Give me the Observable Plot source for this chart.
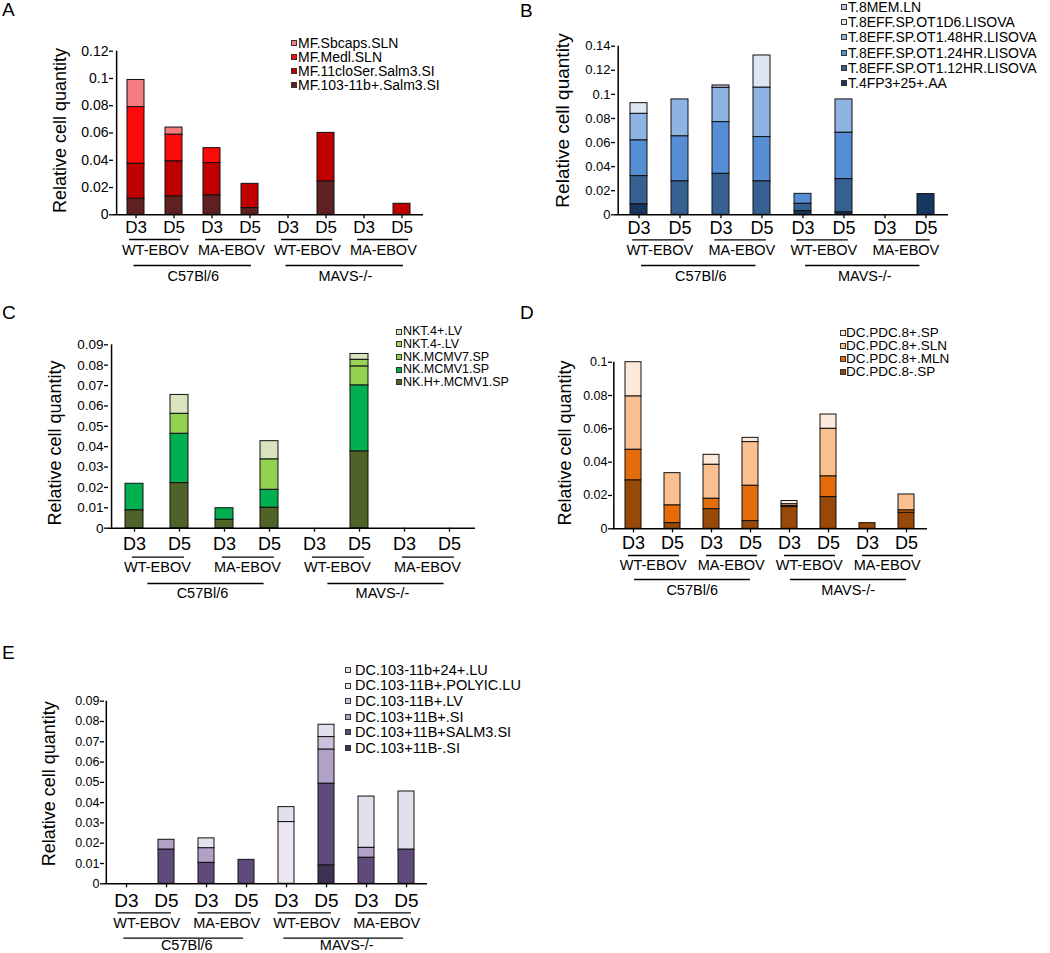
<!DOCTYPE html>
<html>
<head>
<meta charset="utf-8">
<script src="https://cdn.jsdelivr.net/npm/d3@7"></script>
<script src="https://cdn.jsdelivr.net/npm/@observablehq/plot@0.6"></script>
<style>
  body { margin: 0; background: #fff; }
  #fig { position: relative; width: 1050px; height: 953px; overflow: hidden; background: #fff;
         font-family: "Liberation Sans", Arial, Helvetica, sans-serif; color: #000; }
  .panel { position: absolute; }
  .panel svg { overflow: visible; }
  .letter { position: absolute; font-size: 19px; line-height: 19px; }
  .lrow { position: absolute; white-space: nowrap; display: flex; align-items: center; }
  .sw { display: inline-block; width: 4px; height: 4px; border: 1px solid #333; flex: none; }
</style>
</head>
<body>
<div id="fig"></div>
<script>
// ---------- shared categories & labels ----------
const categories = ["C57-WT-D3","C57-WT-D5","C57-MA-D3","C57-MA-D5","MAVS-WT-D3","MAVS-WT-D5","MAVS-MA-D3","MAVS-MA-D5"];
const tickLabels = ["D3","D5","D3","D5","D3","D5","D3","D5"];
const virusLabels = ["WT-EBOV","MA-EBOV","WT-EBOV","MA-EBOV"];
const strainLabels = ["C57Bl/6","MAVS-/-"];
const yTitle = "Relative cell quantity";

// ---------- Panel A (legend order, top of stack first) ----------
const aSeries = ["MF.Sbcaps.SLN","MF.Medl.SLN","MF.11cloSer.Salm3.SI","MF.103-11b+.Salm3.SI"];
const aColors = ["#f47c7e","#fe0a0a","#c00000","#5e2020"];
const aValues = [
  [0.0200, 0.0053, 0,      0,      0, 0,      0, 0],
  [0.0415, 0.0196, 0.0110, 0,      0, 0,      0, 0],
  [0.0257, 0.0257, 0.0237, 0.0178, 0, 0.0357, 0, 0.0081],
  [0.0117, 0.0134, 0.0142, 0.0049, 0, 0.0244, 0, 0]
];
const aTicks = [0, 0.02, 0.04, 0.06, 0.08, 0.1, 0.12];

// ---------- Panel B ----------
const bSeries = ["T.8MEM.LN","T.8EFF.SP.OT1D6.LISOVA","T.8EFF.SP.OT1.48HR.LISOVA","T.8EFF.SP.OT1.24HR.LISOVA","T.8EFF.SP.OT1.12HR.LISOVA","T.4FP3+25+.AA"];
const bColors = ["#b9cde6","#dce6f2","#8eb4e3","#558ed5","#376092","#17375e"];
const bValues = [
  [0,      0,      0.0020, 0,      0,      0,      0, 0],
  [0.0089, 0,      0,      0.0268, 0,      0,      0, 0],
  [0.0221, 0.0307, 0.0285, 0.0410, 0,      0.0277, 0, 0],
  [0.0296, 0.0374, 0.0429, 0.0368, 0.0083, 0.0385, 0, 0],
  [0.0235, 0.0277, 0.0340, 0.0277, 0.0061, 0.0277, 0, 0],
  [0.0086, 0,      0,      0,      0.0030, 0.0019, 0, 0.0172]
];
const bTicks = [0, 0.02, 0.04, 0.06, 0.08, 0.1, 0.12, 0.14];

// ---------- Panel C ----------
const cSeries = ["NKT.4+.LV","NKT.4-.LV","NK.MCMV7.SP","NK.MCMV1.SP","NK.H+.MCMV1.SP"];
const cColors = ["#d7e4bd","#9ad35a","#92d050","#00b050","#4f6228"];
const cValues = [
  [0,      0.0093, 0,      0.0090, 0, 0.0029, 0, 0],
  [0,      0,      0,      0,      0, 0.0033, 0, 0],
  [0,      0.0098, 0,      0.0149, 0, 0.0093, 0, 0],
  [0.0131, 0.0242, 0.0057, 0.0088, 0, 0.0324, 0, 0],
  [0.0087, 0.0221, 0.0041, 0.0100, 0, 0.0376, 0, 0]
];
const cTicks = [0, 0.01, 0.02, 0.03, 0.04, 0.05, 0.06, 0.07, 0.08, 0.09];

// ---------- Panel D ----------
const dSeries = ["DC.PDC.8+.SP","DC.PDC.8+.SLN","DC.PDC.8+.MLN","DC.PDC.8-.SP"];
const dColors = ["#fde9d9","#fac090","#e46c0a","#984807"];
const dValues = [
  [0.0206, 0,      0.0060, 0.0026, 0.0020, 0.0086, 0,      0],
  [0.0320, 0.0194, 0.0204, 0.0262, 0.0010, 0.0286, 0,      0.0096],
  [0.0184, 0.0106, 0.0062, 0.0212, 0.0007, 0.0124, 0,      0.0014],
  [0.0290, 0.0034, 0.0118, 0.0046, 0.0130, 0.0190, 0.0034, 0.0096]
];
const dTicks = [0, 0.02, 0.04, 0.06, 0.08, 0.1];

// ---------- Panel E ----------
const eSeries = ["DC.103-11b+24+.LU","DC.103-11B+.POLYIC.LU","DC.103-11B+.LV","DC.103+11B+.SI","DC.103+11B+SALM3.SI","DC.103+11B-.SI"];
const eColors = ["#e4dfec","#ebe6f1","#ccc1da","#b2a1c7","#604a7b","#3f3151"];
const eValues = [
  [0, 0,      0.0049, 0,      0.0074, 0.0061, 0.0253, 0.0287],
  [0, 0,      0,      0,      0.0304, 0,      0,      0],
  [0, 0,      0,      0,      0,      0.0062, 0,      0],
  [0, 0.0049, 0.0072, 0,      0,      0.0168, 0.0049, 0],
  [0, 0.0168, 0.0103, 0.0118, 0,      0.0403, 0.0128, 0.0168],
  [0, 0,      0,      0,      0,      0.0090, 0,      0]
];
const eTicks = [0, 0.01, 0.02, 0.03, 0.04, 0.05, 0.06, 0.07, 0.08, 0.09];

// ---------- layout (positions / sizes / styles only) ----------
const FONT = '"Liberation Sans", Arial, Helvetica, sans-serif';
const layouts = {
  A: {left:0, top:0, width:440, height:290, mL:113, mR:17, mT:50.7, mB:75.7, yFont:14, xFont:17, xPad:2, padIn:0.56,
      titleOff:53, titleDy:-2.5, titleFont:18, pair:{s:-6.4, e:6.7, dy:24.7}, virusDy:35.7, group:{s:-2, e:1.5, dy:50.7}, groupDy:62,
      letter:{x:2, y:0}, legend:{sx:290.5, tx:298, y0:43, dy:14, font:14}},
  B: {left:520, top:0, width:440, height:290, mL:95, mR:12, mT:45.7, mB:75.7, yFont:13, xFont:18, xPad:2, padIn:0.59,
      titleOff:53, titleDy:-10, titleFont:19, pair:{s:-6.3, e:4.4, dy:25}, virusDy:35.7, group:{s:2.5, e:-6, dy:50.7}, groupDy:62,
      letter:{x:520, y:0.5}, legend:{sx:841, tx:848, y0:7, dy:15.2, font:14}},
  C: {left:0, top:290, width:490, height:320, mL:108, mR:15, mT:54.3, mB:82.3, yFont:13.5, xFont:18, xPad:5, padIn:0.59,
      titleOff:53, titleDy:6.5, titleFont:18, pair:{s:-2.5, e:5.3, dy:29}, virusDy:39, group:{s:13, e:-5, dy:55.3}, groupDy:65.3,
      letter:{x:2, y:302.5}, legend:{sx:396, tx:403, y0:331.7, dy:12.6, font:12.5}},
  D: {left:520, top:290, width:420, height:320, mL:92, mR:13, mT:71.7, mB:81.7, yFont:12.5, xFont:18, xPad:3, padIn:0.59,
      titleOff:47, titleDy:-2.5, titleFont:18, pair:{s:-5, e:7, dy:26.7}, virusDy:36.7, group:{s:1, e:0, dy:50.7}, groupDy:62,
      letter:{x:520, y:302.5}, legend:{sx:840, tx:846, y0:333, dy:13, font:13.5}},
  E: {left:0, top:610, width:440, height:343, mL:104, mR:13, mT:90.7, mB:69.7, yFont:12.5, xFont:19, xPad:6, padIn:0.6,
      titleOff:55, titleDy:-8.7, titleFont:18, pair:{s:-8.6, e:5, dy:29}, virusDy:40, group:{s:-2.7, e:-2.8, dy:54.4}, groupDy:61.5,
      letter:{x:2, y:642.5}, legend:{sx:344.5, tx:355, y0:670, dy:15.6, font:14.5}}
};

const fig = document.getElementById("fig");
const fmt = d => d === 0 ? "0" : String(d);

function drawPanel(letter, series, colors, values, ticks, L) {
  const rows = [];
  series.forEach((s, si) => values[si].forEach((v, ci) => {
    if (v > 0) rows.push({cat: categories[ci], series: s, value: v});
  }));
  const stackOrder = series.slice().reverse();   // bottom of stack first
  const innerW = L.width - L.mL - L.mR;
  const step = innerW / categories.length;
  const bw = step * (1 - L.padIn);
  const yMax = ticks[ticks.length - 1];
  const pairs = virusLabels.map((t, i) => ({a: categories[2 * i], b: categories[2 * i + 1], text: t}));
  const groups = strainLabels.map((t, i) => ({a: categories[4 * i], b: categories[4 * i + 3], m: categories[4 * i + 1], text: t}));

  const svg = Plot.plot({
    width: L.width, height: L.height,
    marginLeft: L.mL, marginRight: L.mR, marginTop: L.mT, marginBottom: L.mB,
    style: {fontFamily: FONT, background: "transparent", color: "#000", overflow: "visible"},
    x: {type: "band", domain: categories, paddingInner: L.padIn, paddingOuter: L.padIn / 2, align: 0.5, axis: null},
    y: {domain: [0, yMax], axis: null},
    color: {domain: series, range: colors},
    marks: [
      Plot.barY(rows, {x: "cat", y: "value", fill: "series", order: stackOrder, stroke: "#111", strokeWidth: 1}),
      Plot.ruleY([0], {stroke: "#000", strokeWidth: 1.5}),
      Plot.ruleX([categories[0]], {x: d => d, y1: () => 0, y2: () => yMax, dx: -step / 2, stroke: "#000", strokeWidth: 1.5}),
      Plot.axisY({ticks: ticks, tickSize: 4, tickPadding: 1, tickFormat: fmt, fontSize: L.yFont, label: null, strokeWidth: 1.3}),
      Plot.axisX({tickSize: 4, tickPadding: L.xPad, tickFormat: d => tickLabels[categories.indexOf(d)], fontSize: L.xFont, label: null, strokeWidth: 1.3}),
      Plot.text([yTitle], {text: d => d, frameAnchor: "left", textAnchor: "middle", lineAnchor: "middle", rotate: -90, dx: -L.titleOff, dy: L.titleDy, fontSize: L.titleFont}),
      Plot.ruleY(pairs, {x1: "a", x2: "b", y: () => 0, dy: L.pair.dy, insetLeft: bw / 2 + L.pair.s, insetRight: bw / 2 - L.pair.e, stroke: "#000", strokeWidth: 1.3}),
      Plot.text(pairs, {x: "a", y: () => 0, text: "text", dx: step / 2, dy: L.virusDy, fontSize: 14.5}),
      Plot.ruleY(groups, {x1: "a", x2: "b", y: () => 0, dy: L.group.dy, insetLeft: bw / 2 + L.group.s, insetRight: bw / 2 - L.group.e, stroke: "#000", strokeWidth: 1.3}),
      Plot.text(groups, {x: "m", y: () => 0, text: "text", dx: step / 2, dy: L.groupDy, fontSize: 14.5})
    ]
  });

  const div = document.createElement("div");
  div.className = "panel";
  div.style.left = L.left + "px";
  div.style.top = L.top + "px";
  div.appendChild(svg);
  fig.appendChild(div);

  const let_ = document.createElement("div");
  let_.className = "letter";
  let_.textContent = letter;
  let_.style.left = L.letter.x + "px";
  let_.style.top = L.letter.y + "px";
  fig.appendChild(let_);

  const lg = L.legend;
  series.forEach((s, i) => {
    const row = document.createElement("div");
    row.className = "lrow";
    row.style.left = lg.sx + "px";
    row.style.top = (lg.y0 + i * lg.dy - lg.font / 2) + "px";
    row.style.height = lg.font + "px";
    row.style.lineHeight = lg.font + "px";
    row.style.fontSize = lg.font + "px";
    const sw = document.createElement("span");
    sw.className = "sw";
    sw.style.background = colors[i];
    const tx = document.createElement("span");
    tx.textContent = s;
    tx.style.marginLeft = (lg.tx - lg.sx - 6) + "px";
    row.appendChild(sw);
    row.appendChild(tx);
    fig.appendChild(row);
  });
}

drawPanel("A", aSeries, aColors, aValues, aTicks, layouts.A);
drawPanel("B", bSeries, bColors, bValues, bTicks, layouts.B);
drawPanel("C", cSeries, cColors, cValues, cTicks, layouts.C);
drawPanel("D", dSeries, dColors, dValues, dTicks, layouts.D);
drawPanel("E", eSeries, eColors, eValues, eTicks, layouts.E);
</script>
</body>
</html>
